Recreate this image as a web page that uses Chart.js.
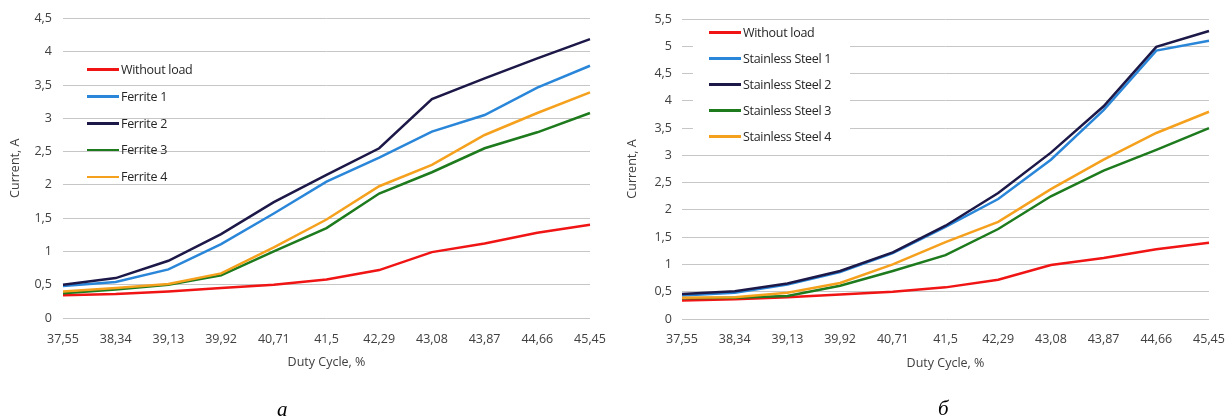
<!DOCTYPE html>
<html>
<head>
<meta charset="utf-8">
<script src="https://cdn.jsdelivr.net/npm/chart.js@4.4.1/dist/chart.umd.min.js"></script>
<style>
  body { margin: 0; background: #fff; }
  #wrap { position: relative; width: 1231px; height: 420px; overflow: hidden; }
  canvas { position: absolute; top: 0; }
  #chartA { left: 0; }
  #chartB { left: 615px; }
  .legend { position: absolute; margin: 0; padding: 0; list-style: none; font-family: 'Open Sans', sans-serif; font-size: 12.5px; color: #262626; }
  .legend li { position: absolute; left: 0; height: 16px; line-height: 16px; white-space: nowrap; letter-spacing: -0.3px; }
  .legend .icon { display: inline-block; width: 32px; height: 2.5px; vertical-align: middle; margin-right: 2px; position: relative; top: -1px; }
  #legendA { left: 87px; top: 62px; }
  #legendB { left: 693px; top: 25px; width: 157px; height: 122px; background: #fff; }
  .cap { position: absolute; font-family: 'Liberation Serif', serif; font-style: italic; font-size: 21px; color: #000; }
</style>
</head>
<body>
<div id="wrap">
  <canvas id="chartA" width="615" height="420"></canvas>
  <canvas id="chartB" width="616" height="420"></canvas>
  <ul class="legend" id="legendA"></ul>
  <ul class="legend" id="legendB"></ul>
  <div class="cap" style="left:277px; top:397px;">а</div>
  <div class="cap" style="left:938px; top:396px;">б</div>
</div>
<script>
  "use strict";
  // データ
  const dutyCycle = ["37,55", "38,34", "39,13", "39,92", "40,71", "41,5", "42,29", "43,08", "43,87", "44,66", "45,45"];

  const withoutLoad = [0.34, 0.36, 0.4, 0.45, 0.5, 0.58, 0.72, 0.99, 1.12, 1.28, 1.4];

  // a) ferrite
  const ferrite1 = [0.48, 0.54, 0.73, 1.11, 1.57, 2.05, 2.41, 2.8, 3.05, 3.46, 3.79];
  const ferrite2 = [0.5, 0.6, 0.86, 1.26, 1.74, 2.15, 2.55, 3.29, 3.6, 3.9, 4.19];
  const ferrite3 = [0.37, 0.43, 0.5, 0.64, 1.0, 1.35, 1.87, 2.19, 2.55, 2.79, 3.08];
  const ferrite4 = [0.4, 0.45, 0.51, 0.67, 1.06, 1.48, 1.98, 2.3, 2.75, 3.08, 3.39];

  // б) stainless steel
  const steel1 = [0.43, 0.48, 0.63, 0.86, 1.21, 1.69, 2.2, 2.92, 3.83, 4.92, 5.1];
  const steel2 = [0.46, 0.51, 0.65, 0.88, 1.22, 1.71, 2.31, 3.05, 3.9, 4.99, 5.28];
  const steel3 = [0.38, 0.39, 0.42, 0.61, 0.88, 1.17, 1.65, 2.25, 2.72, 3.1, 3.5];
  const steel4 = [0.39, 0.4, 0.48, 0.66, 1.0, 1.41, 1.78, 2.38, 2.92, 3.41, 3.8];

  const colors = ["#f01414", "#2a86d8", "#1c1848", "#1d7a1d", "#f5a11e"];

  Chart.defaults.font.family = "'Open Sans', sans-serif";
  Chart.defaults.color = "#404040";

  function makeChart(id, names, series, yMax, opt) {
    const datasets = series.map((s, i) => ({
      label: names[i],
      data: s,
      borderColor: colors[i],
      backgroundColor: colors[i],
      borderWidth: 2.5,
      pointRadius: 0,
      tension: 0,
    }));
    // 描画順: 凡例と逆にして赤を一番上に
    datasets.reverse();

    const ctx = document.getElementById(id).getContext("2d");
    return new Chart(ctx, {
      type: "line",
      data: { labels: dutyCycle, datasets: datasets },
      options: {
        responsive: false,
        animation: false,
        layout: { padding: { left: 0, top: opt.top, right: opt.right, bottom: opt.bottom } },
        plugins: { legend: { display: false }, tooltip: { enabled: false } },
        scales: {
          x: {
            offset: false,
            grid: { display: false },
            border: { display: false },
            ticks: { autoSkip: false, maxRotation: 0, minRotation: 0, padding: opt.xPad, font: { size: 12.5 } },
            title: { display: true, text: "Duty Cycle, %", font: { size: 12.5 }, padding: { top: 0, bottom: 0 } },
            afterFit: (scale) => { scale.height = 52; },
          },
          y: {
            min: 0,
            max: yMax,
            grid: { color: "#c6c6c6", lineWidth: 1, drawTicks: false },
            border: { display: false },
            ticks: {
              stepSize: 0.5,
              padding: opt.yPad,
              font: { size: 12.5 },
              callback: (value) => String(value).replace(".", ","),
            },
            title: { display: true, text: "Current, A", font: { size: 12.5 }, padding: { top: opt.titlePad, bottom: 0 } },
            afterFit: (scale) => { scale.width = opt.yWidth; },
          },
        },
      },
    });
  }

  const namesA = ["Without load", "Ferrite 1", "Ferrite 2", "Ferrite 3", "Ferrite 4"];
  const namesB = ["Without load", "Stainless Steel 1", "Stainless Steel 2", "Stainless Steel 3", "Stainless Steel 4"];

  makeChart("chartA", namesA, [withoutLoad, ferrite1, ferrite2, ferrite3, ferrite4], 4.5,
    { top: 15, right: 25, bottom: 50, xPad: 5.5, yPad: 11, yWidth: 63, titlePad: 7.5 });
  makeChart("chartB", namesB, [withoutLoad, steel1, steel2, steel3, steel4], 5.5,
    { top: 19, right: 22, bottom: 49, xPad: 5, yPad: 10, yWidth: 67, titlePad: 9.5 });

  // 凡例 (HTML)
  function makeLegend(id, names, step, left) {
    const ul = document.getElementById(id);
    for (let i = 0; i < names.length; i++) {
      const li = document.createElement("li");
      li.style.top = (i * step) + "px";
      li.style.left = left + "px";
      li.innerHTML = `<span class="icon" style="background-color:${colors[i]};"></span>${names[i]}`;
      ul.appendChild(li);
    }
  }
  makeLegend("legendA", namesA, 26.8, 0);
  makeLegend("legendB", namesB, 26, 16);
</script>
</body>
</html>
